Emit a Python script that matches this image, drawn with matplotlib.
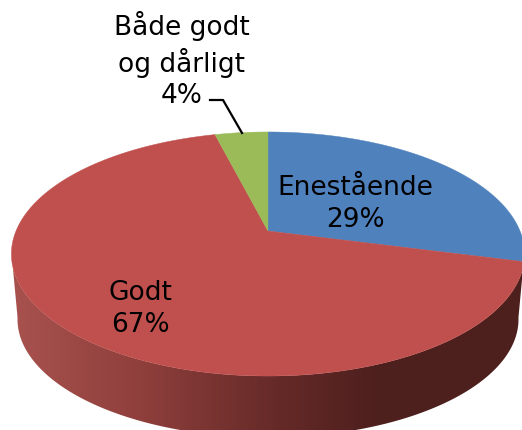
#!/usr/bin/python3

import numpy as np
import matplotlib
matplotlib.use('Agg')
import matplotlib.pyplot as plt
from matplotlib.colors import LinearSegmentedColormap
from matplotlib.patches import Polygon

labels = ['Enestående', 'Godt', 'Både godt\nog dårligt']
values = [29, 67, 4]
colors = ['#4f81bd', '#c0504d', '#9bbb59']


def project(theta, cx, cy, a, b, k):
    # cirkel -> skaerm med lidt perspektiv
    u = np.cos(theta)
    v = np.sin(theta)
    d = 1 + k * v
    return cx + a * u / d, cy - b * v / d


def main():
    fig = plt.figure(figsize=(5.22, 4.30), dpi=100)
    ax = fig.add_axes([0, 0, 1, 1])
    ax.set_xlim(0, 522)
    ax.set_ylim(430, 0)
    ax.axis('off')

    top = dict(cx=268, cy=231, a=252, b=117.7, k=0.1885)
    low = dict(cx=268, cy=297, a=246, b=114, k=0.1885)

    # siden (kun den forreste del kan ses)
    t = np.linspace(np.radians(190), np.radians(350), 300)
    x1, y1 = project(t, **top)
    x2, y2 = project(t[::-1], **low)
    side = Polygon(np.column_stack([np.r_[x1, x2], np.r_[y1, y2]]),
                   closed=True, facecolor='none', edgecolor='none', transform=ax.transData)
    ax.add_patch(side)
    cmap = LinearSegmentedColormap.from_list('side', [(0.0, '#a8524e'), (0.25, '#8f3f3c'),
                                                      (0.52, '#652a28'), (0.72, '#4d1f1d'),
                                                      (1.0, '#4d1f1d')])
    img = ax.imshow(np.linspace(0, 1, 256).reshape(1, -1), cmap=cmap, aspect='auto',
                    extent=[12, 524, 440, 240], zorder=1)
    img.set_clip_path(side)
    ax.set_xlim(0, 522)
    ax.set_ylim(430, 0)

    # toppen
    start = np.pi / 2
    total = sum(values)
    for val, col in zip(values, colors):
        stop = start - 2 * np.pi * val / total
        t = np.linspace(start, stop, 200)
        x, y = project(t, **top)
        ax.fill(np.r_[top['cx'], x], np.r_[top['cy'], y], color=col, lw=0.3, zorder=2)
        start = stop

    fs = 19
    ls = 1.27
    ax.text(355, 204, f"{labels[0]}\n{values[0]}%", ha='center', va='center', fontsize=fs,
            linespacing=ls, zorder=3)
    ax.text(140, 309, f"{labels[1]}\n{values[1]}%", ha='center', va='center', fontsize=fs,
            linespacing=ls, zorder=3)
    ax.text(182, 60, f"{labels[2]}\n{values[2]}%", ha='center', va='center', fontsize=fs,
            linespacing=ls, zorder=3)
    ax.plot([210, 223, 242], [100, 100, 133], color='black', lw=1.6, zorder=3)

    fig.savefig('out.png', dpi=100)


if __name__ == '__main__':
    main()
